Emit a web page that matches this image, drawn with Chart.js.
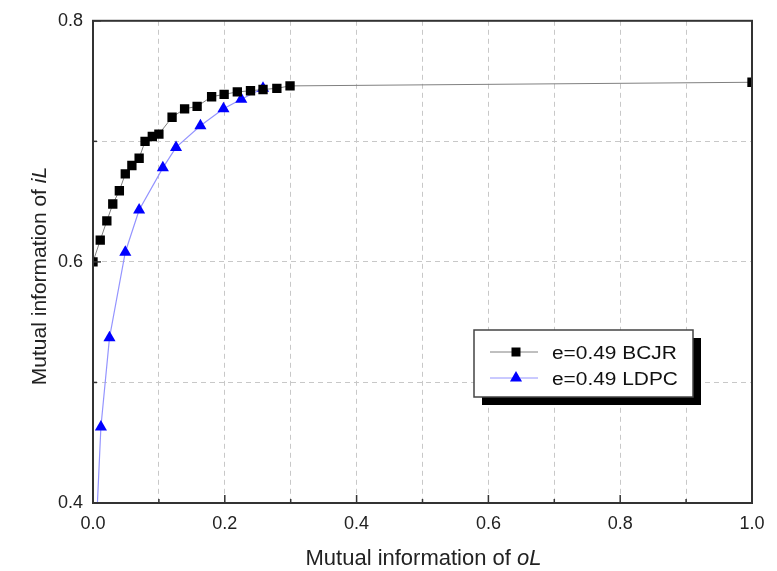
<!DOCTYPE html>
<html><head><meta charset="utf-8">
<script src="https://cdn.jsdelivr.net/npm/chart.js@4.4.1/dist/chart.umd.min.js"></script>
<style>html,body{margin:0;padding:0;background:#fff}#wrap{width:777px;height:571px}</style>
</head><body><div id="wrap"><canvas id="c" width="777" height="571"></canvas></div>
<script>
// ---- data ----
const bcjrX = [0, 0.011, 0.021, 0.030, 0.040, 0.049, 0.059, 0.070, 0.079, 0.090, 0.100, 0.120, 0.139, 0.158, 0.180, 0.199, 0.219, 0.239, 0.258, 0.279, 0.299, 1.0];
const bcjrY = [0.600, 0.618, 0.634, 0.648, 0.659, 0.673, 0.680, 0.686, 0.700, 0.704, 0.706, 0.720, 0.727, 0.729, 0.737, 0.739, 0.741, 0.742, 0.743, 0.744, 0.746, 0.749];
const ldpcX = [0, 0.012, 0.025, 0.049, 0.070, 0.106, 0.126, 0.163, 0.198, 0.225, 0.258];
const ldpcY = [0.32, 0.463, 0.537, 0.608, 0.643, 0.678, 0.695, 0.713, 0.727, 0.735, 0.744];
const seriesNames = ['e=0.49 BCJR', 'e=0.49 LDPC'];
const xTickLabels = ['0.0', '0.2', '0.4', '0.6', '0.8', '1.0'];
const yTickLabels = ['0.4', '0.6', '0.8'];
const xTitle = ['Mutual information of ', 'oL'];
const yTitle = ['Mutual information of ', 'iL'];

const FONT = '"Liberation Sans", Arial, sans-serif';
const toPts = (xs, ys) => xs.map((v, i) => ({x: v, y: ys[i]}));

function drawMixed(ctx, parts, size) {
  const fonts = [`${size}px ${FONT}`, `italic ${size}px ${FONT}`];
  let total = 0;
  const widths = parts.map((p, i) => { ctx.font = fonts[i]; const w = ctx.measureText(p).width; total += w; return w; });
  let x = -total / 2;
  ctx.textAlign = 'left'; ctx.textBaseline = 'alphabetic';
  parts.forEach((p, i) => { ctx.font = fonts[i]; ctx.fillText(p, x, 0); x += widths[i]; });
}

const framePlugin = {
  id: 'frame',
  afterDraw(chart) {
    const {ctx, chartArea: a, scales: {x, y}} = chart;
    ctx.save();
    ctx.strokeStyle = '#333';
    ctx.lineWidth = 1.5;
    x.ticks.forEach(t => {
      const px = x.getPixelForValue(t.value);
      const major = Math.round(t.value * 10) % 2 === 0;
      ctx.beginPath(); ctx.moveTo(px, a.bottom); ctx.lineTo(px, a.bottom - (major ? 8 : 4)); ctx.stroke();
    });
    y.ticks.forEach(t => {
      const py = y.getPixelForValue(t.value);
      const major = Math.round(t.value * 10) % 2 === 0;
      ctx.beginPath(); ctx.moveTo(a.left, py); ctx.lineTo(a.left + (major ? 8 : 4), py); ctx.stroke();
    });
    ctx.lineWidth = 2;
    ctx.strokeRect(a.left, a.top, a.right - a.left, a.bottom - a.top);

    // axis titles
    ctx.fillStyle = '#222';
    ctx.save(); ctx.translate((a.left + a.right) / 2 + 1, 565); drawMixed(ctx, xTitle, 22); ctx.restore();
    ctx.save(); ctx.translate(45.5, 276); ctx.rotate(-Math.PI / 2); drawMixed(ctx, yTitle, 21); ctx.restore();

    // legend with drop shadow
    const L = 474, T = 330, W = 219, H = 67;
    ctx.fillStyle = '#000'; ctx.fillRect(L + 8, T + 8, W, H);
    ctx.fillStyle = '#fff'; ctx.fillRect(L, T, W, H);
    ctx.strokeStyle = '#444'; ctx.lineWidth = 1.5; ctx.strokeRect(L, T, W, H);
    const rows = [352, 378];
    chart.data.datasets.forEach((ds, i) => {
      const cy = rows[i];
      ctx.strokeStyle = ds.borderColor; ctx.lineWidth = 1;
      ctx.beginPath(); ctx.moveTo(490, cy); ctx.lineTo(538, cy); ctx.stroke();
      ctx.fillStyle = ds.pointBackgroundColor;
      ctx.beginPath();
      if (ds.pointStyle === 'rect') { ctx.rect(516 - 4.5, cy - 4.5, 9, 9); }
      else { const r = 7; ctx.moveTo(516, cy - r); ctx.lineTo(516 + r * 0.866, cy + r / 2); ctx.lineTo(516 - r * 0.866, cy + r / 2); ctx.closePath(); }
      ctx.fill();
      ctx.save();
      ctx.translate(552, cy + 6.5); ctx.scale(1.16, 1);
      ctx.fillStyle = '#111'; ctx.font = `18px ${FONT}`; ctx.textAlign = 'left'; ctx.textBaseline = 'alphabetic';
      ctx.fillText(ds.label, 0, 0);
      ctx.restore();
    });
    ctx.restore();
  }
};

const gridColor = (lo, hi) => c => (c.tick && (Math.abs(c.tick.value - lo) < 1e-6 || Math.abs(c.tick.value - hi) < 1e-6)) ? 'rgba(0,0,0,0)' : '#c8c8c8';

new Chart(document.getElementById('c'), {
  type: 'line',
  data: {
    datasets: [
      {label: seriesNames[0], data: toPts(bcjrX, bcjrY), borderColor: '#808080', borderWidth: 1,
       pointStyle: 'rect', pointRadius: 6.6, pointBackgroundColor: '#000', pointBorderColor: '#000', pointBorderWidth: 0, tension: 0},
      {label: seriesNames[1], data: toPts(ldpcX, ldpcY), borderColor: '#9494ff', borderWidth: 1.2,
       pointStyle: 'triangle', pointRadius: 7, pointBackgroundColor: '#0000ff', pointBorderColor: '#0000ff', pointBorderWidth: 0, tension: 0}
    ]
  },
  options: {
    responsive: false, animation: false, devicePixelRatio: 1,
    layout: {padding: {top: 20, right: 25, left: 0, bottom: 0}},
    plugins: {legend: {display: false}, tooltip: {enabled: false}},
    scales: {
      x: {type: 'linear', min: 0, max: 1,
          afterFit: s => { s.height = 68; },
          ticks: {stepSize: 0.1, autoSkip: false, maxRotation: 0, padding: 10, color: '#222', font: {family: FONT, size: 18},
                  callback: v => { const s = Number(v).toFixed(1); return xTickLabels.includes(s) ? s : ''; }},
          grid: {drawTicks: false, color: gridColor(0, 1), lineWidth: 1},
          border: {display: false, dash: [5, 4]}},
      y: {type: 'linear', min: 0.4, max: 0.8,
          afterFit: s => { s.width = 93; },
          ticks: {stepSize: 0.1, autoSkip: false, padding: 10, color: '#222', font: {family: FONT, size: 18},
                  callback: v => { const s = Number(v).toFixed(1); return yTickLabels.includes(s) ? s : ''; }},
          grid: {drawTicks: false, color: gridColor(0.4, 0.8), lineWidth: 1},
          border: {display: false, dash: [5, 4]}}
    }
  },
  plugins: [framePlugin]
});
</script></body></html>
